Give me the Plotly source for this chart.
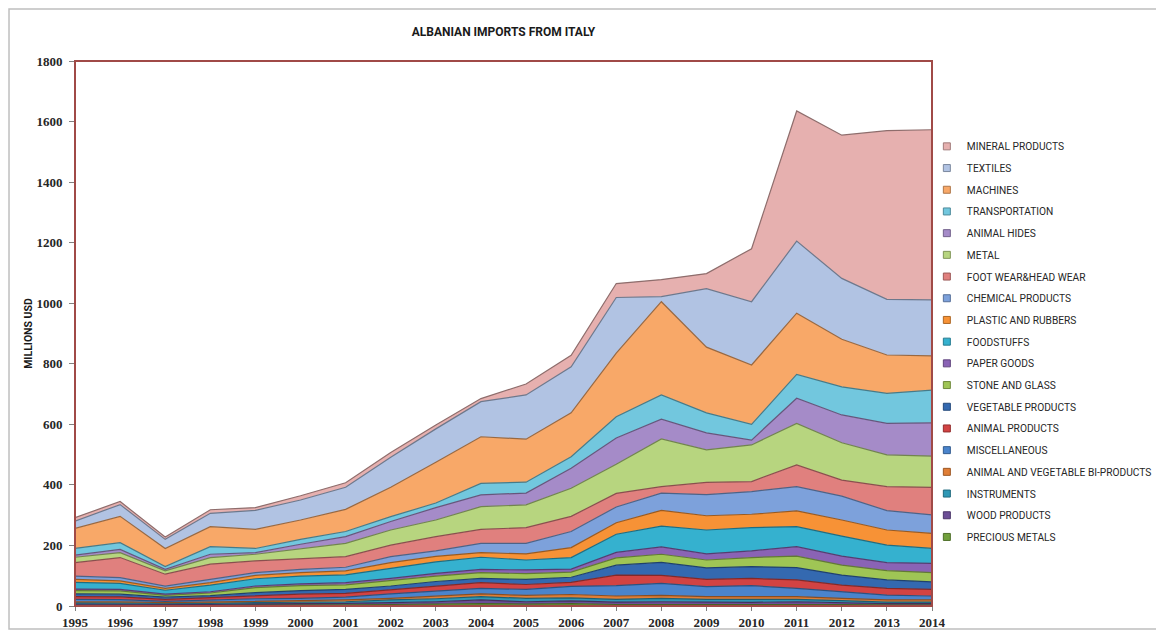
import plotly.graph_objects as go

years = list(range(1995, 2015))

# Series values (millions USD), bottom of stack first
precious_metals = [3, 3, 2, 2, 3, 3, 4, 5, 6, 8, 6, 8, 5, 6, 5, 5, 6, 5, 4, 4]
wood_products = [3, 3, 2, 3, 4, 4, 5, 6, 8, 12, 8, 9, 8, 8, 7, 7, 8, 6, 4, 4]
instruments = [4, 4, 4, 4, 4, 5, 5, 9, 10, 11, 11, 10, 9, 11, 10, 10, 8, 7, 5, 5]
animal_veg_biproducts = [4, 4, 3, 4, 6, 6, 6, 5, 8, 9, 10, 11, 11, 10, 9, 9, 9, 7, 7, 7]
miscellaneous = [8, 7, 4, 6, 7, 7, 9, 15, 18, 18, 20, 27, 34, 40, 33, 36, 27, 22, 16, 13]
animal_products = [9, 9, 7, 9, 11, 14, 13, 13, 14, 19, 16, 13, 35, 26, 24, 24, 28, 22, 22, 22]
vegetable_products = [9, 9, 7, 6, 9, 12, 13, 13, 17, 14, 17, 17, 33, 43, 38, 39, 41, 33, 28, 25]
stone_and_glass = [11, 11, 6, 9, 17, 16, 15, 18, 18, 19, 19, 17, 24, 27, 26, 30, 38, 33, 31, 30]
paper_goods = [5, 5, 4, 4, 5, 6, 7, 7, 9, 11, 12, 10, 18, 24, 20, 22, 31, 30, 26, 31]
foodstuffs = [22, 20, 13, 22, 24, 26, 26, 33, 38, 40, 33, 38, 60, 69, 79, 77, 66, 66, 58, 49]
plastic_and_rubbers = [10, 8, 6, 8, 11, 11, 13, 19, 18, 15, 20, 33, 38, 52, 47, 44, 52, 53, 50, 50]
chemical_products = [11, 11, 8, 11, 9, 11, 12, 20, 18, 31, 35, 53, 52, 57, 70, 75, 80, 79, 64, 61]
foot_wear_head_wear = [44, 66, 39, 50, 39, 36, 35, 38, 47, 46, 52, 50, 45, 21, 40, 33, 72, 53, 79, 91]
metal = [18, 16, 11, 22, 22, 33, 44, 50, 55, 75, 75, 93, 96, 158, 108, 121, 137, 123, 105, 103]
animal_hides = [7, 11, 5, 11, 5, 14, 22, 28, 41, 39, 39, 66, 87, 65, 56, 16, 83, 92, 104, 110]
transportation = [22, 22, 9, 25, 14, 16, 17, 16, 15, 38, 36, 38, 70, 80, 66, 52, 79, 93, 99, 108]
machines = [66, 87, 60, 66, 63, 64, 73, 97, 135, 154, 142, 145, 210, 308, 217, 196, 202, 157, 127, 113]
textiles = [24, 39, 30, 44, 63, 66, 73, 99, 110, 116, 146, 152, 184, 17, 193, 209, 238, 201, 184, 185]
mineral_products = [12, 10, 8, 12, 9, 14, 15, 16, 13, 10, 36, 38, 46, 56, 50, 175, 430, 473, 557, 562]

series_names = [
    "PRECIOUS METALS", "WOOD PRODUCTS", "INSTRUMENTS", "ANIMAL AND VEGETABLE BI-PRODUCTS",
    "MISCELLANEOUS", "ANIMAL PRODUCTS", "VEGETABLE PRODUCTS", "STONE AND GLASS",
    "PAPER GOODS", "FOODSTUFFS", "PLASTIC AND RUBBERS", "CHEMICAL PRODUCTS",
    "FOOT WEAR&HEAD WEAR", "METAL", "ANIMAL HIDES", "TRANSPORTATION", "MACHINES",
    "TEXTILES", "MINERAL PRODUCTS",
]
series_values = [
    precious_metals, wood_products, instruments, animal_veg_biproducts, miscellaneous,
    animal_products, vegetable_products, stone_and_glass, paper_goods, foodstuffs,
    plastic_and_rubbers, chemical_products, foot_wear_head_wear, metal, animal_hides,
    transportation, machines, textiles, mineral_products,
]
series_colors = [
    "#71A03C", "#6C4E96", "#2F98B5", "#E07E36", "#4A84CC", "#D24343", "#3469B0",
    "#9FC555", "#8A63B5", "#35B1CF", "#F79236", "#7DA1DB", "#E0807E", "#B7D57F",
    "#A58BC8", "#72C7DE", "#F8A868", "#B1C3E3", "#E6B0AF",
]


def darker(hex_color, f=0.62):
    h = hex_color.lstrip("#")
    r, g, b = (int(h[i:i + 2], 16) for i in (0, 2, 4))
    return "rgb(%d,%d,%d)" % (r * f, g * f, b * f)


fig = go.Figure()
for name, vals, col in zip(series_names, series_values, series_colors):
    fig.add_trace(go.Scatter(
        x=years, y=vals, name=name, mode="lines", stackgroup="one",
        line=dict(color=darker(col), width=1.2), fillcolor=col,
        showlegend=False, hovertemplate="%{x}: %{y}<extra>" + name + "</extra>",
    ))

# legend entries (top of stack listed first)
for name, col in reversed(list(zip(series_names, series_colors))):
    fig.add_trace(go.Scatter(
        x=[None], y=[None], mode="markers", name=name, legendgroup=name,
        marker=dict(symbol="square", size=7, color=col, line=dict(color=darker(col, 0.7), width=1)),
        showlegend=True, hoverinfo="skip",
    ))

FONT_SANS = "Liberation Sans Narrow, Roboto, Arial, sans-serif"
FONT_TICK = "Liberation Serif, serif"

# page body has an 8px default margin: figure is sized so it fills the 1164x630 window
fig.update_layout(
    width=1156, height=622,
    margin=dict(l=67, r=232, t=53, b=24, autoexpand=False),
    paper_bgcolor="white", plot_bgcolor="white",
    title=dict(text="<b>ALBANIAN IMPORTS FROM ITALY</b>", x=0.5, xref="paper",
               y=1 - 24 / 622, yref="container", yanchor="middle", xanchor="center",
               font=dict(family=FONT_SANS, size=12, color="#1a1a1a")),
    showlegend=True,
    legend=dict(x=0.994, xanchor="left", y=0.87, yanchor="top", traceorder="grouped",
                tracegroupgap=2.7, bgcolor="rgba(0,0,0,0)",
                font=dict(family=FONT_SANS, size=10.2, color="#262626")),
    xaxis=dict(range=[1995, 2014], tickmode="array", tickvals=years, ticktext=[str(y) for y in years],
               showgrid=False, zeroline=False, ticks="outside", ticklen=4, tickcolor="#808080",
               showline=True, linecolor="#808080", linewidth=1, automargin=False,
               tickfont=dict(family=FONT_TICK, size=13, color="#262626", weight="bold")),
    yaxis=dict(range=[0, 1800], dtick=200, showgrid=False, zeroline=False,
               ticks="outside", ticklen=5, tickcolor="#808080", ticklabelstandoff=4, automargin=False,
               tickfont=dict(family=FONT_TICK, size=13, color="#262626", weight="bold"),
               title=dict(text="<b>MILLIONS USD</b>", standoff=1,
                          font=dict(family=FONT_SANS, size=10.5, color="#1a1a1a"))),
    shapes=[
        dict(type="rect", xref="paper", yref="paper", x0=0, x1=1, y0=0, y1=1,
             line=dict(color="#A04A47", width=2), layer="above"),
        dict(type="rect", xref="paper", yref="paper", x0=-0.077, x1=1.2672, y0=-0.0422, y1=1.0954,
             line=dict(color="#BFBFBF", width=1.5), layer="below"),
    ],
)

fig.write_html("out.html")
